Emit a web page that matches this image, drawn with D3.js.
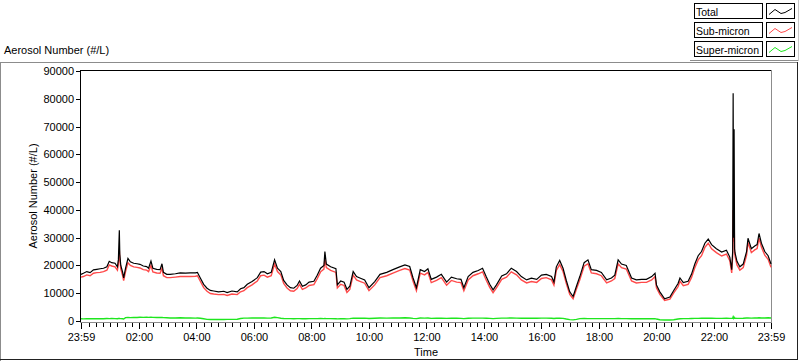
<!DOCTYPE html>
<html><head><meta charset="utf-8">
<script src="https://cdn.jsdelivr.net/npm/d3@7"></script>
<style>
body{margin:0;background:#fff;}
svg{display:block;font-family:"Liberation Sans",Arial,sans-serif;}
</style></head>
<body><svg id="c" width="800" height="361"></svg>
<script>
// minutes after 23:59 (previous day)
const times = [
0,5,12,19,26,33,40,47,54,59,
64,71,76,78,80,81,83,87,89,93,
98,103,110,117,123,130,137,141,146,150,
158,165,169,172,179,186,197,207,218,228,
239,243,249,256,263,270,277,287,298,305,
315,326,333,340,347,357,368,375,382,389,
397,404,410,417,423,430,437,444,451,456,
462,469,476,486,493,500,507,509,512,521,
532,535,542,549,555,561,568,575,582,592,
601,613,624,638,651,665,676,686,693,700,
708,717,724,731,742,752,763,773,784,793,
799,808,818,829,838,846,853,860,867,878,
888,898,909,919,930,940,951,961,971,982,
987,992,999,1006,1013,1020,1027,1034,1041,1050,
1058,1065,1076,1086,1097,1107,1114,1121,1128,1138,
1149,1159,1170,1180,1191,1198,1201,1208,1218,1229,
1237,1246,1250,1257,1267,1274,1281,1288,1295,1302,
1309,1316,1326,1337,1347,1354,1358,1360,1361,1362,
1363,1364,1365,1369,1375,1382,1389,1392,1399,1406,
1411,1415,1420,1427,1434,1440];
const total = [
16800,17200,17800,17400,18400,18600,18800,19000,19500,21500,
21000,20800,19500,22000,32700,24000,20000,17500,15500,19000,
22500,21300,20800,20600,20400,19800,19600,19000,21600,19000,
18600,18500,20600,17500,16800,16800,17000,17300,17200,17300,
17300,17500,15500,13200,11800,11000,10800,10500,10700,10200,
10800,10500,11600,12000,13200,14200,15600,17600,17800,17000,
17500,22000,19000,17800,14600,13000,12000,11800,12800,14400,
12500,13000,14000,14300,16500,19000,20000,25000,20500,19500,
18800,13000,14400,14000,11400,12500,17800,16000,15500,14800,
12000,14200,16800,17500,18500,19500,20200,19600,15500,12000,
18500,17800,18800,15000,15800,16800,14000,15800,15200,15000,
12000,16000,17500,18200,19000,15800,13200,11200,13000,16200,
17000,19000,17800,16000,14800,15400,15000,16500,16800,16000,
14000,19500,21800,19000,14500,10500,8800,12500,16000,21000,
22000,18500,18200,17500,14800,15500,16500,22000,20500,20000,
15500,14800,15000,15000,16000,17200,13000,10500,8000,8600,
11000,13500,15500,13800,14300,16800,20500,23500,25000,28000,
29500,27500,26000,24800,25500,23000,18500,25000,82000,30000,
69000,26000,24500,21500,19500,20500,25000,29800,26000,27000,
27500,31500,28000,25000,23500,20500];
const subMicron = [
15800,16000,16600,16300,17200,17400,17500,17800,18300,20200,
19800,19500,18300,20500,25500,22500,18800,16300,14500,17800,
21000,20000,19500,19300,19100,18500,18300,17800,20000,17700,
17300,17200,19000,16300,15600,15600,15800,16000,16000,16000,
16100,16300,14300,12000,10700,9900,9700,9500,9600,9200,
9700,9500,10500,10900,12000,13000,14400,16300,16500,15800,
16300,20500,17800,16600,13500,11900,10900,10700,11700,13200,
11400,11900,12800,13100,15200,17700,18700,22500,19200,18200,
17500,11900,13200,12800,10300,11400,16500,14800,14300,13600,
10900,13000,15600,16300,17200,18200,18900,18300,14300,10900,
17200,16600,17500,13800,14600,15600,12900,14600,14000,13800,
10900,14800,16300,17000,17700,14600,12100,10200,11900,15000,
15800,17700,16600,14800,13700,14200,13900,15300,15600,14800,
12900,18200,20300,17800,13400,9600,8000,11500,14800,19700,
20600,17300,17000,16300,13700,14400,15300,20600,19200,18700,
14400,13700,13900,13900,14800,16000,12000,9600,7400,7900,
10100,12400,14300,12700,13200,15600,19200,22000,23500,26500,
28000,26000,24600,23400,24100,21700,17300,23500,40000,28500,
38000,24600,23300,20200,18300,19200,23600,28300,24600,25600,
26100,29800,26600,23700,22200,19300];
const superMicron = [
800,750,850,800,850,800,850,800,900,850,
900,850,800,900,950,900,850,800,700,1200,
1250,1200,1300,1250,1350,1300,1400,1300,1350,1300,
1250,1300,1250,1200,1150,1100,1100,1150,1100,1100,
1050,1100,1000,800,600,550,550,550,550,600,
600,650,900,1050,1050,1100,1100,1100,1100,1050,
1100,1350,1200,1000,900,850,850,800,850,850,
800,800,850,850,850,900,850,900,850,850,
800,750,850,800,750,850,1050,1000,1000,1050,
900,1000,1100,1050,1100,1100,1150,1100,950,850,
1100,1050,1100,950,1000,1050,950,1000,1000,950,
850,1000,1050,1050,1050,1000,950,850,950,1050,
1050,1100,1050,1000,1000,1050,1000,1050,1050,1000,
900,1000,1050,950,700,500,400,600,850,900,
850,850,850,850,850,850,850,900,850,850,
800,800,850,800,800,850,700,450,350,350,
450,700,800,850,850,900,950,950,1000,1000,
1050,1000,950,950,1000,950,950,1000,1500,1000,
1300,1000,1000,950,950,1000,1100,1100,1050,1100,
1100,1150,1100,1100,1150,1100];

const seriesNames = ["Total","Sub-micron","Super-micron"];
const seriesColors = ["#000000","#ff4a4a","#1ee61e"];
const yTicks = [0,10000,20000,30000,40000,50000,60000,70000,80000,90000];
const xTickMinutes = [0,121,241,361,481,601,721,841,961,1081,1201,1321,1440];
const xTickLabels = ["23:59","02:00","04:00","06:00","08:00","10:00","12:00","14:00","16:00","18:00","20:00","22:00","23:59"];

const svg = d3.select("#c");
svg.append("rect").attr("width",800).attr("height",361).attr("fill","#fff");

// outer frame
const g0 = svg.append("g").attr("shape-rendering","crispEdges");
g0.append("line").attr("x1",0).attr("x2",797).attr("y1",62.5).attr("y2",62.5).attr("stroke","#8c8c8c");
g0.append("line").attr("x1",0.5).attr("x2",0.5).attr("y1",62).attr("y2",361).attr("stroke","#8c8c8c");
g0.append("line").attr("x1",797.5).attr("x2",797.5).attr("y1",62).attr("y2",360).attr("stroke","#222");
g0.append("line").attr("x1",0).attr("x2",798).attr("y1",359.5).attr("y2",359.5).attr("stroke","#222");
// legend panel edges
g0.append("line").attr("x1",690).attr("x2",799).attr("y1",60.5).attr("y2",60.5).attr("stroke","#8c8c8c");
g0.append("line").attr("x1",798.5).attr("x2",798.5).attr("y1",0).attr("y2",61).attr("stroke","#c8c8c8");

const x = d3.scaleLinear().domain([0,1440]).range([81,771]);
const y = d3.scaleLinear().domain([0,90000]).range([321,71]);

// title
svg.append("text").attr("x",4).attr("y",54).attr("font-size",11).text("Aerosol Number (#/L)");

// plot border
const pb = svg.append("g").attr("shape-rendering","crispEdges");
pb.append("line").attr("x1",80.5).attr("x2",80.5).attr("y1",70).attr("y2",323).attr("stroke","#000");
pb.append("line").attr("x1",80).attr("x2",772).attr("y1",70.5).attr("y2",70.5).attr("stroke","#000");
pb.append("line").attr("x1",771.5).attr("x2",771.5).attr("y1",70).attr("y2",323).attr("stroke","#8c8c8c");
pb.append("line").attr("x1",80).attr("x2",772).attr("y1",322.5).attr("y2",322.5).attr("stroke","#8c8c8c");

// y axis
const yAxis = d3.axisLeft(y).tickValues(yTicks).tickSize(4).tickPadding(2).tickFormat(d3.format("d"));
const ya = svg.append("g").attr("transform","translate(80,0)").call(yAxis);
ya.select(".domain").remove();
ya.selectAll("text").attr("font-size",11).attr("font-family","Liberation Sans, Arial, sans-serif").attr("fill","#000");
ya.selectAll("line").attr("shape-rendering","crispEdges");

// x axis minor ticks every 15 minutes aligned to the clock
const minor = d3.range(1,1440).filter(m => (m+59)%15===0);
const xmin = d3.axisBottom(x).tickValues(minor).tickSize(4).tickFormat("");
const xm = svg.append("g").attr("transform","translate(0,323)").call(xmin);
xm.select(".domain").remove();
xm.selectAll("line").attr("shape-rendering","crispEdges");
const xAxis = d3.axisBottom(x).tickValues(xTickMinutes).tickSize(6).tickPadding(4)
  .tickFormat((d,i)=>xTickLabels[i]);
const xa = svg.append("g").attr("transform","translate(0,323)").call(xAxis);
xa.select(".domain").remove();
xa.selectAll("text").attr("font-size",11).attr("font-family","Liberation Sans, Arial, sans-serif").attr("fill","#000");
xa.selectAll("line").attr("shape-rendering","crispEdges");

svg.append("text").attr("x",426).attr("y",356).attr("text-anchor","middle").attr("font-size",11).text("Time");
svg.append("text").attr("transform","translate(37,196) rotate(-90)").attr("text-anchor","middle")
  .attr("font-size",11).text("Aerosol Number (#/L)");

// lines
const n = Math.min(times.length,total.length,subMicron.length,superMicron.length);
const idx = d3.range(n);
const line = arr => d3.line().x(i=>x(times[i])).y(i=>y(arr[i])).curve(d3.curveLinear)(idx);
const lines = svg.append("g");
lines.append("path").attr("d",line(superMicron)).attr("fill","none").attr("stroke",seriesColors[2]).attr("stroke-width",1.4);
lines.append("path").attr("d",line(subMicron)).attr("fill","none").attr("stroke",seriesColors[1]).attr("stroke-width",1.4);
lines.append("path").attr("d",line(total)).attr("fill","none").attr("stroke",seriesColors[0]).attr("stroke-width",1.2);

// legend
const lg = svg.append("g").attr("shape-rendering","crispEdges");
seriesNames.forEach((name,i)=>{
  const top = 3.5 + i*19;
  lg.append("rect").attr("x",694.5).attr("y",top).attr("width",68).attr("height",15)
    .attr("fill","#fff").attr("stroke","#000");
  lg.append("rect").attr("x",766.5).attr("y",top).attr("width",28).attr("height",15)
    .attr("fill","#fff").attr("stroke","#000");
  svg.append("text").attr("x",696).attr("y",top+12).attr("font-size",10.5).text(name);
  svg.append("polyline")
    .attr("points",[[769,top+11],[775,top+6],[781,top+10],[785,top+9],[792,top+5]].map(p=>p.join(",")).join(" "))
    .attr("fill","none").attr("stroke",seriesColors[i]).attr("stroke-width",1);
});
</script></body></html>
